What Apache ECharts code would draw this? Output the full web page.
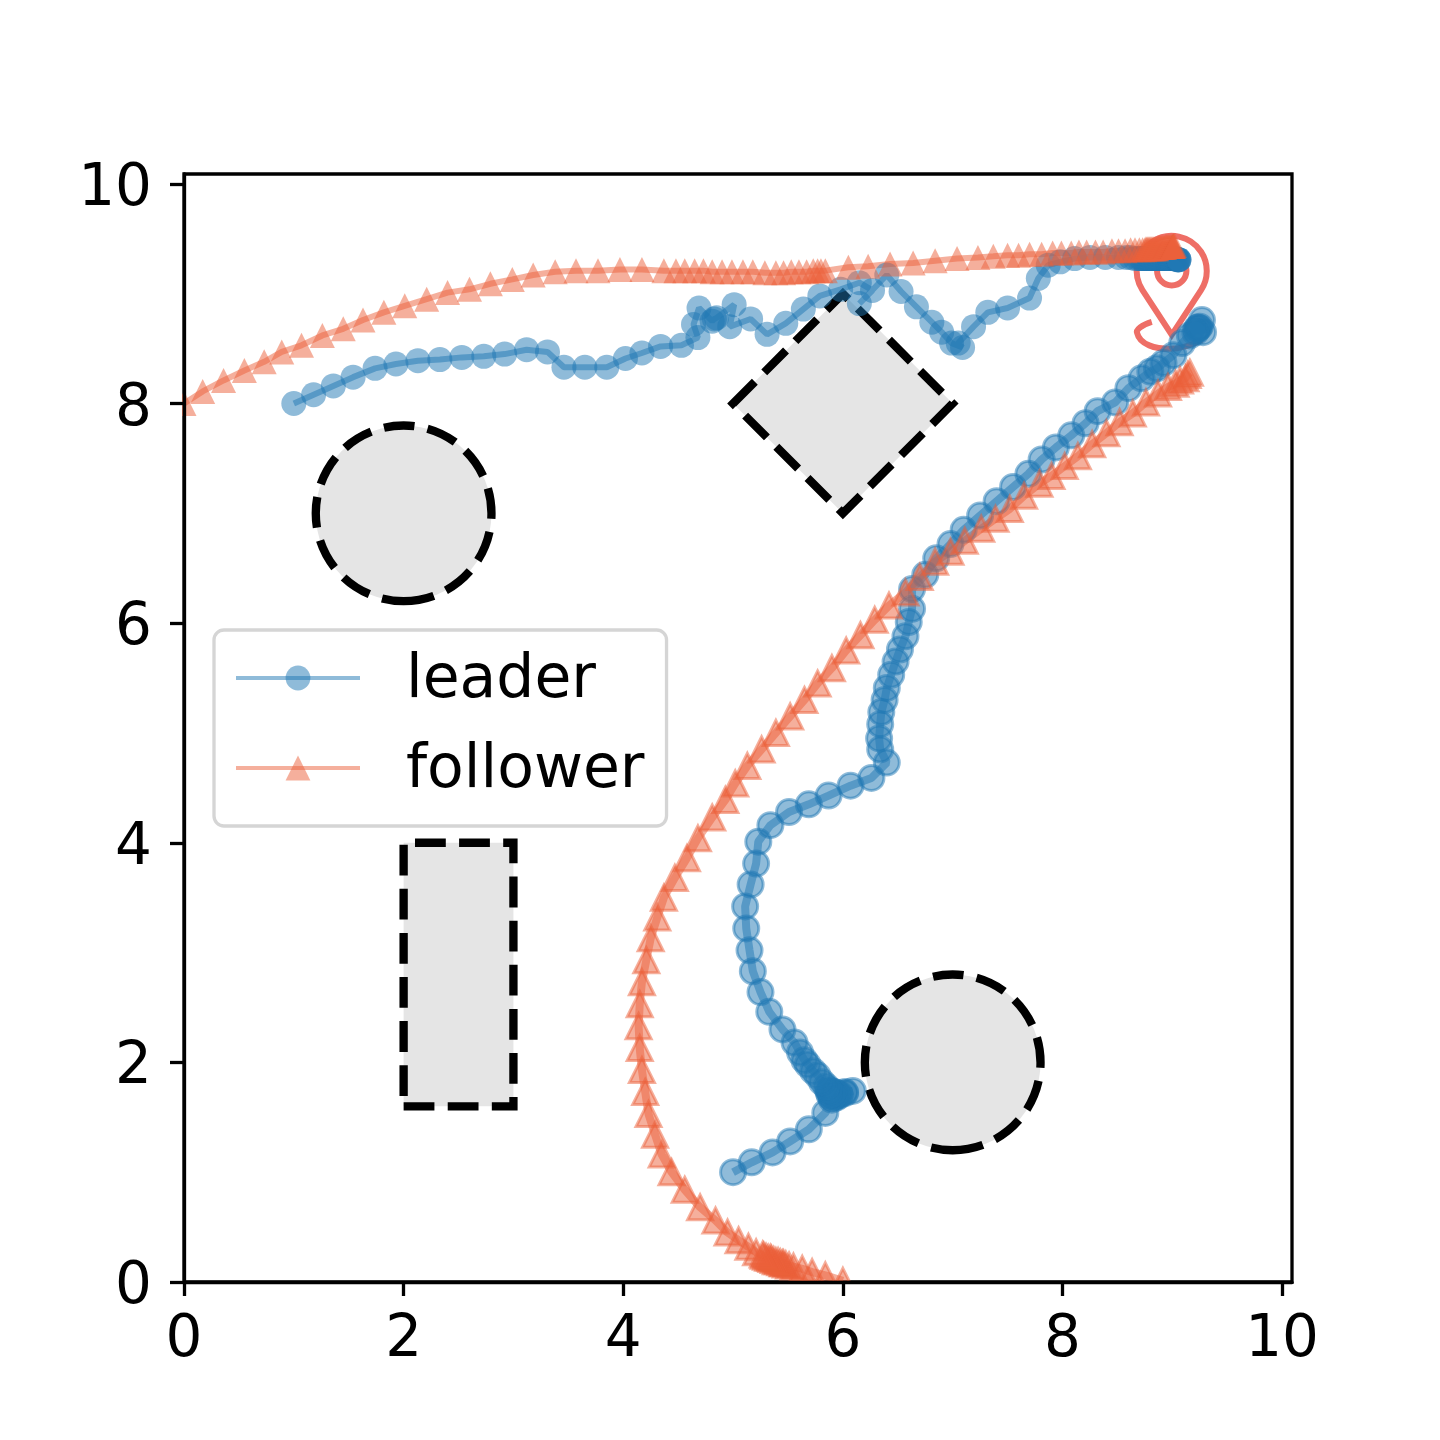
<!DOCTYPE html>
<html>
<head>
<meta charset="utf-8">
<title>leader follower</title>
<script src="https://cdn.jsdelivr.net/npm/echarts@6/dist/echarts.min.js"></script>
<style>
html, body { margin: 0; padding: 0; background: #fff; }
#main { width: 1440px; height: 1440px; }
</style>
</head>
<body>
<div id="main"></div>
<script>
const tickValues = [0, 2, 4, 6, 8, 10];

// first run: start top left, goal near (9, 9.3)
const leaderUpper = [[1.00,8.00],[1.18,8.08],[1.36,8.16],[1.54,8.24],[1.74,8.32],[1.93,8.36],[2.13,8.39],[2.33,8.40],[2.53,8.42],[2.73,8.43],[2.92,8.45],[3.12,8.49],[3.31,8.47],[3.46,8.33],[3.65,8.33],[3.85,8.33],[4.02,8.41],[4.17,8.46],[4.34,8.52],[4.53,8.53],[4.68,8.60],[4.64,8.72],[4.69,8.87],[4.81,8.75],[4.83,8.77],[4.85,8.78],[5.01,8.90],[4.97,8.70],[5.16,8.77],[5.31,8.63],[5.48,8.73],[5.64,8.86],[5.79,8.98],[5.98,9.04],[6.15,9.10],[6.27,9.03],[6.15,8.91],[6.40,9.17],[6.53,9.02],[6.67,8.88],[6.81,8.74],[6.90,8.65],[6.99,8.55],[7.09,8.51],[7.05,8.55],[7.19,8.70],[7.32,8.83],[7.50,8.87],[7.70,8.96],[7.78,9.14],[7.87,9.26],[7.98,9.29],[8.11,9.32],[8.25,9.33],[8.39,9.33],[8.51,9.33],[8.58,9.33],[8.62,9.33],[8.66,9.32],[8.69,9.32],[8.71,9.32],[8.72,9.32],[8.73,9.32],[8.74,9.32],[8.75,9.32],[8.76,9.32],[8.77,9.32],[8.78,9.32],[8.79,9.32],[8.80,9.32],[8.81,9.32],[8.82,9.32],[8.83,9.32],[8.84,9.32],[8.85,9.32],[8.86,9.32],[8.87,9.32],[8.88,9.32],[8.89,9.32],[8.90,9.32],[8.91,9.32],[8.92,9.32],[8.93,9.32],[8.94,9.32],[8.95,9.32],[8.96,9.32],[8.97,9.32],[8.98,9.32],[8.99,9.32],[9.00,9.32],[9.01,9.32],[9.02,9.32],[9.03,9.32],[9.04,9.31],[9.05,9.31],[9.05,9.31],[9.06,9.31],[9.06,9.31],[9.06,9.31]];
const followerUpper = [[0.00,8.00],[0.17,8.11],[0.36,8.21],[0.55,8.30],[0.73,8.38],[0.89,8.47],[1.07,8.53],[1.26,8.62],[1.45,8.68],[1.63,8.76],[1.82,8.83],[2.01,8.89],[2.21,8.95],[2.40,9.01],[2.60,9.04],[2.79,9.09],[2.99,9.13],[3.18,9.17],[3.38,9.20],[3.57,9.21],[3.77,9.21],[3.97,9.22],[4.17,9.22],[4.37,9.21],[4.48,9.21],[4.56,9.21],[4.65,9.21],[4.73,9.21],[4.81,9.20],[4.90,9.20],[4.99,9.20],[5.09,9.20],[5.18,9.20],[5.29,9.19],[5.39,9.19],[5.46,9.19],[5.53,9.20],[5.60,9.20],[5.67,9.20],[5.73,9.21],[5.77,9.21],[5.80,9.21],[5.84,9.21],[6.05,9.24],[6.23,9.25],[6.43,9.27],[6.64,9.28],[6.84,9.30],[7.04,9.32],[7.23,9.33],[7.37,9.34],[7.50,9.35],[7.60,9.35],[7.70,9.36],[7.81,9.36],[7.91,9.37],[7.99,9.37],[8.08,9.37],[8.15,9.38],[8.22,9.38],[8.30,9.38],[8.37,9.38],[8.45,9.39],[8.51,9.39],[8.57,9.39],[8.62,9.40],[8.66,9.40],[8.70,9.40],[8.73,9.40],[8.75,9.40],[8.76,9.41],[8.77,9.41],[8.78,9.41],[8.79,9.41],[8.80,9.41],[8.81,9.41],[8.82,9.41],[8.83,9.41],[8.84,9.41],[8.85,9.41],[8.86,9.41],[8.87,9.42],[8.88,9.42],[8.89,9.42],[8.90,9.42],[8.91,9.42],[8.92,9.42],[8.93,9.42],[8.94,9.43],[8.95,9.43],[8.96,9.43],[8.97,9.43],[8.98,9.43],[8.99,9.43],[9.00,9.43],[9.00,9.43],[9.01,9.43],[9.01,9.43],[9.01,9.44],[9.02,9.44]];

// second run: start bottom, passes between the circle and the rectangle
const leaderLower = [[5.00,1.00],[5.17,1.09],[5.36,1.18],[5.52,1.28],[5.69,1.39],[5.84,1.54],[5.90,1.66],[5.94,1.69],[5.97,1.71],[6.02,1.73],[6.09,1.74],[6.02,1.72],[5.97,1.70],[5.94,1.68],[5.90,1.68],[5.88,1.70],[5.87,1.73],[5.89,1.74],[5.92,1.73],[5.94,1.72],[5.90,1.71],[5.87,1.75],[5.85,1.78],[5.81,1.82],[5.77,1.88],[5.73,1.92],[5.68,1.98],[5.65,2.02],[5.61,2.09],[5.56,2.18],[5.45,2.30],[5.33,2.46],[5.25,2.64],[5.18,2.83],[5.15,3.02],[5.12,3.22],[5.11,3.42],[5.16,3.62],[5.21,3.81],[5.23,4.01],[5.34,4.16],[5.51,4.28],[5.69,4.35],[5.87,4.43],[6.07,4.52],[6.26,4.59],[6.40,4.73],[6.34,4.85],[6.33,4.95],[6.34,5.08],[6.35,5.19],[6.38,5.30],[6.40,5.41],[6.44,5.53],[6.48,5.65],[6.52,5.76],[6.57,5.88],[6.60,6.01],[6.63,6.13],[6.63,6.31],[6.75,6.44],[6.85,6.59],[6.98,6.72],[7.10,6.85],[7.25,6.98],[7.40,7.11],[7.55,7.24],[7.69,7.36],[7.81,7.49],[7.94,7.60],[8.08,7.71],[8.21,7.82],[8.32,7.93],[8.48,8.01],[8.60,8.14],[8.72,8.23],[8.80,8.29],[8.86,8.32],[8.92,8.37],[9.01,8.44],[9.09,8.55],[9.16,8.62],[9.23,8.69],[9.27,8.76],[9.28,8.65],[9.24,8.69],[9.22,8.67],[9.25,8.70],[9.21,8.65]];
const followerLower = [[6.00,0.01],[5.84,0.06],[5.72,0.09],[5.63,0.12],[5.55,0.14],[5.51,0.15],[5.48,0.16],[5.46,0.17],[5.45,0.17],[5.43,0.18],[5.41,0.19],[5.39,0.19],[5.37,0.20],[5.35,0.21],[5.34,0.22],[5.32,0.22],[5.30,0.23],[5.28,0.24],[5.27,0.25],[5.21,0.27],[5.14,0.32],[5.05,0.38],[4.95,0.45],[4.84,0.56],[4.70,0.68],[4.56,0.84],[4.44,1.00],[4.35,1.16],[4.29,1.34],[4.23,1.53],[4.20,1.73],[4.17,1.93],[4.15,2.13],[4.14,2.33],[4.15,2.53],[4.17,2.73],[4.21,2.93],[4.25,3.13],[4.31,3.32],[4.37,3.50],[4.47,3.68],[4.58,3.86],[4.68,4.04],[4.81,4.23],[4.93,4.39],[5.02,4.54],[5.13,4.70],[5.26,4.85],[5.39,5.00],[5.52,5.15],[5.65,5.30],[5.77,5.45],[5.90,5.59],[6.03,5.75],[6.16,5.89],[6.29,6.03],[6.42,6.16],[6.57,6.28],[6.70,6.42],[6.84,6.56],[6.98,6.65],[7.11,6.75],[7.26,6.86],[7.39,6.95],[7.52,7.04],[7.65,7.16],[7.79,7.27],[7.90,7.34],[8.02,7.43],[8.14,7.52],[8.27,7.63],[8.40,7.73],[8.52,7.83],[8.64,7.91],[8.76,8.01],[8.87,8.09],[8.96,8.15],[9.03,8.18],[9.07,8.21],[9.12,8.23],[9.14,8.26],[9.16,8.28]];

// obstacles
const circles = [[2, 7, 0.8], [7, 2, 0.8]];
const diamond = [[5, 8], [6, 9], [7, 8], [6, 7]];
const rectangle = [[2, 1.6], [3, 1.6], [3, 4], [2, 4]];
const goalPin = [[8.995, 8.625]];

const blue = '#1f77b4';
const red = '#ec5f3a';
const obstacleStyle = { fill: '#e5e5e5', stroke: '#000', lineWidth: 8.33, lineDash: [30.8, 13.3] };

function polygonSeries(points) {
    return {
        type: 'custom',
        coordinateSystem: 'cartesian2d',
        z: 1,
        silent: true,
        data: [points[0]],
        renderItem: (params, api) => ({
            type: 'polygon',
            shape: { points: points.map(p => api.coord(p)) },
            style: obstacleStyle
        })
    };
}

function runSeries(name, data, symbol, color, width, border) {
    return {
        name: name,
        type: 'line',
        data: data,
        symbol: symbol,
        symbolSize: 25,
        showSymbol: true,
        showAllSymbol: true,
        smooth: false,
        clip: false,
        animation: false,
        z: 2,
        lineStyle: { color: color, width: width, opacity: 0.5 },
        itemStyle: { color: color, opacity: 0.5, borderColor: color, borderWidth: border, borderJoin: 'miter' }
    };
}

const chart = echarts.init(document.getElementById('main'));
chart.setOption({
    animation: false,
    backgroundColor: '#fff',
    textStyle: { fontFamily: 'DejaVu Sans' },
    grid: { left: 184, top: 174, width: 1108, height: 1108, show: true, borderColor: '#000', borderWidth: 3.3, backgroundColor: 'transparent' },
    xAxis: {
        type: 'value', min: 0, max: 10.09, z: 10,
        splitLine: { show: false },
        axisLine: { lineStyle: { color: '#000', width: 3.3 } },
        axisTick: { length: 14, lineStyle: { color: '#000', width: 3.3 }, customValues: tickValues },
        axisLabel: { color: '#000', fontSize: 58, fontFamily: 'DejaVu Sans', margin: 30, customValues: tickValues }
    },
    yAxis: {
        type: 'value', min: 0, max: 10.09, z: 10,
        splitLine: { show: false },
        axisLine: { lineStyle: { color: '#000', width: 3.3 } },
        axisTick: { length: 14, lineStyle: { color: '#000', width: 3.3 }, customValues: tickValues },
        axisLabel: {
            margin: 32, customValues: tickValues,
            formatter: '{a|{value}}',
            // matplotlib centres the digits a little lower than the tick
            rich: { a: { color: '#000', fontSize: 58, fontFamily: 'DejaVu Sans', lineHeight: 70, verticalAlign: 'bottom' } }
        }
    },
    legend: {
        data: ['leader', 'follower'],
        orient: 'vertical',
        left: 214,
        top: 630,
        padding: [21, 22, 25, 20],
        itemWidth: 124,
        itemHeight: 31,
        itemGap: 30,
        backgroundColor: 'rgba(255,255,255,0.8)',
        borderColor: '#d5d5d5',
        borderWidth: 3.3,
        borderRadius: 10,
        formatter: '{a|{name}}',
        textStyle: {
            padding: [0, 0, 0, 41],
            rich: { a: { fontSize: 60, fontFamily: 'DejaVu Sans', color: '#000', lineHeight: 66, verticalAlign: 'bottom' } }
        },
        lineStyle: { width: 4 }
    },
    // triangles sitting on the axes get cut at the frame
    graphic: [
        { type: 'rect', z: 5, silent: true, shape: { x: 600, y: 1284, width: 300, height: 14 }, style: { fill: '#fff' } },
        { type: 'rect', z: 5, silent: true, shape: { x: 168, y: 370, width: 14, height: 60 }, style: { fill: '#fff' } }
    ],
    series: [
        {
            type: 'custom',
            coordinateSystem: 'cartesian2d',
            z: 1,
            silent: true,
            data: circles,
            renderItem: (params, api) => {
                const c = api.coord([api.value(0), api.value(1)]);
                return {
                    type: 'arc',
                    shape: {
                        cx: c[0], cy: c[1], r: api.size([api.value(2), 0])[0],
                        startAngle: Math.PI / 2, endAngle: Math.PI / 2 - Math.PI * 2, clockwise: false
                    },
                    style: obstacleStyle
                };
            }
        },
        polygonSeries(diamond),
        polygonSeries(rectangle),
        {
            type: 'custom',
            coordinateSystem: 'cartesian2d',
            z: 1,
            silent: true,
            data: goalPin,
            renderItem: (params, api) => {
                const c = api.coord([api.value(0), api.value(1)]);
                return {
                    type: 'path',
                    x: c[0],
                    y: c[1],
                    shape: {
                        pathData: 'M0,0 L-29.3,-44.8 A35,35 0 1 1 29.3,-44.8 Z M-14.7,-64 A14.7,14.7 0 1 0 14.7,-64 A14.7,14.7 0 1 0 -14.7,-64 M-20,-13 C-30,-10 -36,-5 -34.7,-2 C-32,10 -16,14 -2,14 C10,14 20,10 30,5',
                        layout: 'cover', x: -35, y: -99, width: 70, height: 113
                    },
                    style: { fill: 'none', stroke: '#ee6e66', lineWidth: 6 }
                };
            }
        },
        runSeries('leader', leaderUpper, 'circle', blue, 6, 0),
        runSeries('follower', followerUpper, 'triangle', red, 6, 0),
        runSeries('leader', leaderLower, 'circle', blue, 8, 3),
        runSeries('follower', followerLower, 'triangle', red, 8, 3)
    ]
});

window.addEventListener('resize', () => chart.resize());
</script>
</body>
</html>
